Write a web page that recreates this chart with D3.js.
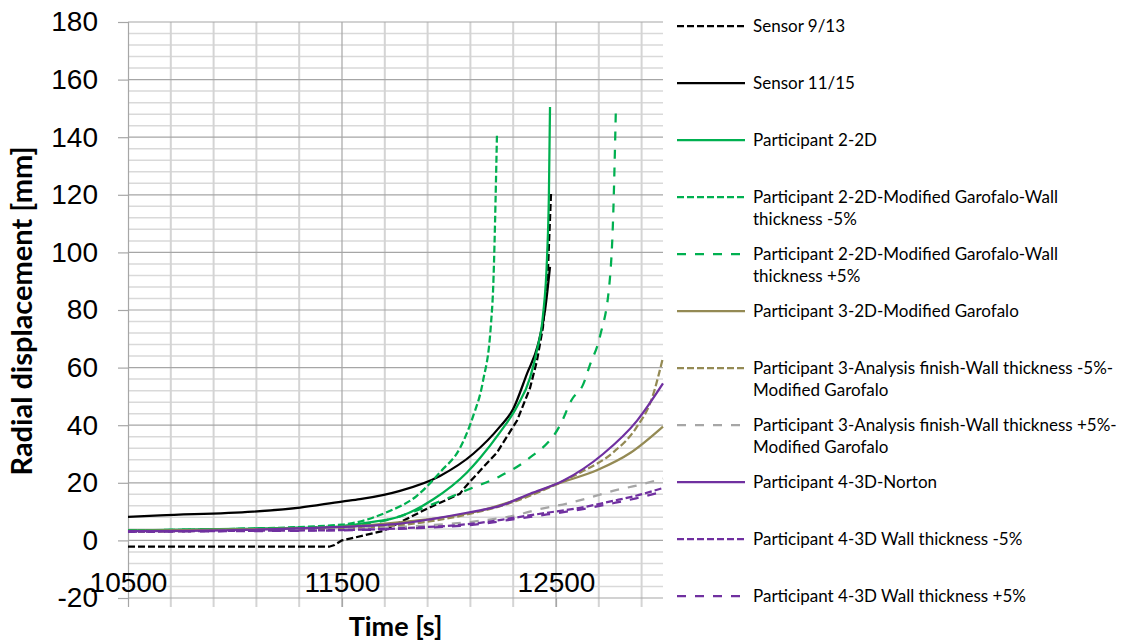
<!DOCTYPE html>
<html>
<head>
<meta charset="utf-8">
<script src="https://cdn.jsdelivr.net/npm/d3@7"></script>
<style>
  body { margin: 0; background: #fff; }
  svg { font-family: Lato, "Noto Sans", sans-serif; }
</style>
</head>
<body>
<svg></svg>
<script>
var w = 1125;
var h = 644;

var svg = d3.select("svg")
            .attr("width", w)
            .attr("height", h);

// series: time [s] and radial displacement [mm]
var sensor913T = [10500, 11440, 11465, 11500, 11537, 11692, 11897, 12051, 12075, 12145, 12224, 12318, 12379, 12411, 12439, 12463, 12477];
var sensor913V = [-2.2, -2.2, -1.6, 0.0, 0.6, 3.3, 11, 16.2, 18.5, 24.2, 30.5, 41.6, 53, 62.4, 74, 95, 121];

var sensor1115T = [10500, 10650, 11084, 11304, 11500, 11584, 11771, 11958, 12112, 12238, 12299, 12365, 12416, 12449, 12472];
var sensor1115V = [8.2, 8.7, 10, 11.4, 13.5, 14.3, 17.2, 22.4, 30.0, 39.5, 45.5, 58, 68, 80, 95];

var p2T = [10500, 11000, 11460, 11620, 11771, 11925, 12084, 12145, 12238, 12318, 12379, 12411, 12439, 12458, 12467, 12472];
var p2V = [3.5, 4.0, 4.7, 6.2, 8.3, 14.2, 23.6, 28.6, 37.5, 46.5, 56.5, 66, 78, 98, 121, 150.5];

var p2MinusT = [10500, 11000, 11500, 11700, 11850, 11962, 12051, 12112, 12158, 12196, 12206, 12224];
var p2MinusV = [3.5, 4.0, 5.5, 9.5, 15.5, 24, 32, 43, 55, 75, 87, 140.5];

var p2PlusT = [10500, 11000, 11500, 11692, 11962, 12084, 12238, 12365, 12519, 12575, 12626, 12659, 12706, 12752, 12766, 12780];
var p2PlusV = [3.5, 4.0, 5.0, 6.8, 13.7, 17.5, 22.3, 28, 40, 49, 54, 61, 71, 91, 110, 150.5];

var p3T = [10500, 11000, 11500, 11800, 12145, 12299, 12505, 12696, 12850, 13000];
var p3V = [3.3, 3.8, 4.7, 6.5, 10.3, 13.7, 19.6, 24.5, 30.5, 39.5];

var p3MinusT = [10500, 11000, 11500, 11771, 12084, 12299, 12458, 12612, 12766, 12874, 12949, 13000];
var p3MinusV = [3.0, 3.5, 4.2, 5.3, 9.0, 13.3, 18, 23.5, 30.5, 39, 49.5, 63.5];

var p3PlusT = [10500, 11000, 11500, 11800, 12145, 12299, 12425, 12552, 12659, 12766, 12892, 13000];
var p3PlusV = [3.0, 3.4, 3.9, 4.8, 6.8, 8.5, 10.9, 12.8, 14.9, 17.2, 19.3, 21.5];

var p4T = [10500, 11000, 11460, 11771, 11925, 12084, 12238, 12379, 12533, 12720, 12879, 13000];
var p4V = [3.2, 3.6, 4.6, 5.8, 7.5, 9.6, 12, 16.2, 20.7, 30, 41.6, 54.5];

var p4MinusT = [10500, 11000, 11500, 11800, 12145, 12299, 12458, 12612, 12766, 12874, 13000];
var p4MinusV = [3.0, 3.3, 3.6, 4.3, 6.1, 7.8, 9.6, 11.3, 13.7, 15.5, 18.2];

var p4PlusT = [10500, 11000, 11500, 11800, 12145, 12299, 12458, 12612, 12766, 12874, 13000];
var p4PlusV = [3.0, 3.2, 3.5, 4.1, 5.7, 7.3, 9.0, 10.7, 12.9, 14.6, 17.0];

var yTicks = [-20, 0, 20, 40, 60, 80, 100, 120, 140, 160, 180];
var xTicks = [10500, 11500, 12500];

var legendNames = [
  ["Sensor 9/13"],
  ["Sensor 11/15"],
  ["Participant 2-2D"],
  ["Participant 2-2D-Modified Garofalo-Wall", "thickness -5%"],
  ["Participant 2-2D-Modified Garofalo-Wall", "thickness +5%"],
  ["Participant 3-2D-Modified Garofalo"],
  ["Participant 3-Analysis finish-Wall thickness -5%-", "Modified Garofalo"],
  ["Participant 3-Analysis finish-Wall thickness +5%-", "Modified Garofalo"],
  ["Participant 4-3D-Norton"],
  ["Participant 4-3D Wall thickness -5%"],
  ["Participant 4-3D Wall thickness +5%"]
];

// line styles
var black = "#000000", green = "#00b050", olive = "#948a54", grey = "#a6a6a6", purple = "#7030a0";
var shortDash = "7,3", longDash = "9,9";

var series = [
  {t: sensor913T,  v: sensor913V,  color: black,  dash: shortDash, curve: d3.curveLinear},
  {t: sensor1115T, v: sensor1115V, color: black,  dash: null,      curve: d3.curveMonotoneX},
  {t: p2T,         v: p2V,         color: green,  dash: null,      curve: d3.curveMonotoneX},
  {t: p2MinusT,    v: p2MinusV,    color: green,  dash: shortDash, curve: d3.curveMonotoneX},
  {t: p2PlusT,     v: p2PlusV,     color: green,  dash: longDash,  curve: d3.curveMonotoneX},
  {t: p3T,         v: p3V,         color: olive,  dash: null,      curve: d3.curveMonotoneX},
  {t: p3MinusT,    v: p3MinusV,    color: olive,  dash: shortDash, curve: d3.curveMonotoneX},
  {t: p3PlusT,     v: p3PlusV,     color: grey,   dash: longDash,  curve: d3.curveMonotoneX},
  {t: p4T,         v: p4V,         color: purple, dash: null,      curve: d3.curveMonotoneX},
  {t: p4MinusT,    v: p4MinusV,    color: purple, dash: shortDash, curve: d3.curveMonotoneX},
  {t: p4PlusT,     v: p4PlusV,     color: purple, dash: longDash,  curve: d3.curveMonotoneX}
];
series.forEach(function(s, i){ s.name = legendNames[i]; });

// scales
var xScale = d3.scaleLinear().domain([10500, 13000]).range([128, 663]);
var yScale = d3.scaleLinear().domain([-20, 180]).range([598, 22]);

// grid
var grid = svg.append("g");
grid.selectAll(".hminor")
  .data(d3.range(-20, 181, 4).filter(function(d){ return d % 20 != 0; }))
  .join("line")
    .attr("x1", xScale(10500)).attr("x2", xScale(13000))
    .attr("y1", function(d){ return yScale(d); })
    .attr("y2", function(d){ return yScale(d); })
    .attr("stroke", "#d9d9d9")
    .attr("stroke-width", 1.5);

grid.selectAll(".vminor")
  .data(d3.range(10700, 13000, 200).filter(function(d){ return (d - 10500) % 1000 != 0; }))
  .join("line")
    .attr("x1", function(d){ return xScale(d); })
    .attr("x2", function(d){ return xScale(d); })
    .attr("y1", yScale(180)).attr("y2", yScale(-20) + 9)
    .attr("stroke", "#d4d4d4")
    .attr("stroke-width", 2);

grid.selectAll(".hmajor")
  .data(yTicks)
  .join("line")
    .attr("x1", xScale(10500)).attr("x2", xScale(13000))
    .attr("y1", function(d){ return yScale(d); })
    .attr("y2", function(d){ return yScale(d); })
    .attr("stroke", "#a6a6a6")
    .attr("stroke-width", 1.2);

grid.selectAll(".vmajor")
  .data([11500, 12500])
  .join("line")
    .attr("x1", function(d){ return xScale(d); })
    .attr("x2", function(d){ return xScale(d); })
    .attr("y1", yScale(180)).attr("y2", yScale(-20) + 9)
    .attr("stroke", "#a6a6a6")
    .attr("stroke-width", 1.2);

// y axis
var yAxis = d3.axisLeft(yScale).tickValues(yTicks).tickSize(10).tickPadding(20)
    .tickFormat(function(d){ return String(d); });
var gy = svg.append("g")
    .attr("transform", "translate(" + xScale(10500) + ",0)")
    .call(yAxis);
gy.select(".domain").attr("stroke", "#a6a6a6").attr("stroke-width", 1.2);
gy.selectAll(".tick line").attr("stroke", "#a6a6a6").attr("stroke-width", 1.2);
gy.selectAll("text").style("font-size", "28px").attr("fill", "#000");

// x axis (labels sit just above the bottom line, like the original)
var xAxis = d3.axisBottom(xScale).tickValues(xTicks).tickSize(9)
    .tickFormat(function(d){ return String(d); });
var gx = svg.append("g")
    .attr("transform", "translate(0," + yScale(-20) + ")")
    .call(xAxis);
gx.select(".domain").remove();
gx.selectAll(".tick line").attr("stroke", "#a6a6a6").attr("stroke-width", 1.2);
gx.selectAll("text").style("font-size", "28px").attr("fill", "#000")
    .attr("y", -26).attr("dy", "0.71em");

// lines
var line = d3.line();
svg.append("g").selectAll("path")
  .data(series)
  .join("path")
    .attr("d", function(s){
      return line.curve(s.curve)(s.t.map(function(t, i){ return [xScale(t), yScale(s.v[i])]; }));
    })
    .attr("fill", "none")
    .attr("stroke", function(s){ return s.color; })
    .attr("stroke-width", 2.25)
    .attr("stroke-dasharray", function(s){ return s.dash; });

// axis titles
svg.append("text")
    .attr("text-anchor", "middle")
    .attr("transform", "translate(32,311) rotate(-90)")
    .style("font-size", "29px")
    .style("font-weight", "bold")
    .text("Radial displacement [mm]");

svg.append("text")
    .attr("text-anchor", "middle")
    .attr("x", (xScale(10500) + xScale(13000)) / 2)
    .attr("y", 636)
    .style("font-size", "27px")
    .style("font-weight", "bold")
    .text("Time [s]");

// legend
var legend = svg.append("g");
var items = legend.selectAll("g")
  .data(series)
  .join("g")
    .attr("transform", function(d, i){ return "translate(677," + (26 + i * 57) + ")"; });

items.append("line")
    .attr("x1", 0).attr("x2", 68)
    .attr("stroke", function(s){ return s.color; })
    .attr("stroke-width", 2.25)
    .attr("stroke-dasharray", function(s){ return s.dash; });

items.append("text")
    .style("font-size", "17px")
    .selectAll("tspan")
    .data(function(s){ return s.name; })
    .join("tspan")
      .attr("x", 76)
      .attr("y", function(d, i){ return i * 22; })
      .attr("dy", "0.35em")
      .text(function(d){ return d; });
</script>
</body>
</html>
